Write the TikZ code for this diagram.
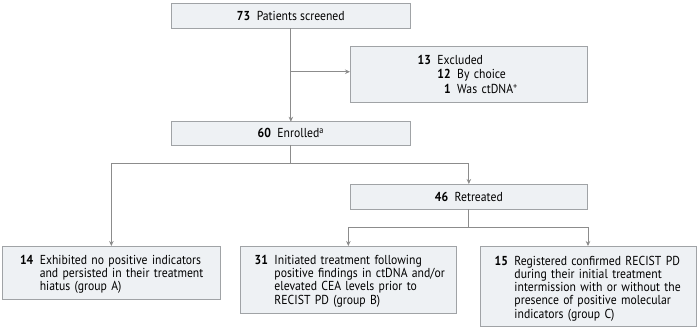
\documentclass[tikz,border=0pt]{standalone}
\usepackage{fontspec}
\setmainfont{PT Sans}[FakeStretch=0.9]
\usetikzlibrary{arrows.meta}
\definecolor{boxfill}{RGB}{238,241,244}
\definecolor{boxline}{RGB}{160,163,166}
\definecolor{connc}{RGB}{140,140,140}
\newcommand\nm[1]{\textbf{#1}\hspace{6.5pt}}
\newcommand\tabA[2]{\raisebox{-#1}[\height][\depth]{\begin{tabular}{@{}r@{\hspace{6.5pt}}l@{}}#2\end{tabular}}}
\begin{document}
\begin{tikzpicture}[x=1pt,y=-1pt,
  font=\fontsize{13}{13.3}\selectfont,
  box/.style={draw=boxline, fill=boxfill, line width=0.8pt, inner sep=0pt, outer sep=0pt, anchor=north west},
  lbox/.style={box, align=left, inner ysep=0pt},
  conn/.style={draw=connc, line width=0.75pt},
  arr/.style={conn, -{Stealth[length=5pt,width=4.5pt]}}]
\useasboundingbox (0,0) rectangle (700,331);

\node[box, minimum width=238.3pt, minimum height=25pt] (scr) at (171.7,3.3) {\nm{73}Patients screened};

\node[lbox, minimum width=237pt, minimum height=55.3pt, inner xsep=67.7pt, text width=101.6pt] (exc) at (350,46.7)
  {\renewcommand\arraystretch{1.1}\raisebox{-1.5pt}[\height][\depth]{\begin{tabular}{@{}r@{\hspace{6.5pt}}r@{\hspace{6.5pt}}l@{}}
   \textbf{13} & \multicolumn{2}{@{}l@{}}{Excluded}\\
   & \textbf{12} & By choice\\
   & \textbf{1} & Was ctDNA\textsuperscript{+}
   \end{tabular}}};

\node[box, minimum width=238.3pt, minimum height=23.3pt] (enr) at (171.7,121.7) {\nm{60}Enrolled\textsuperscript{a}};

\node[box, minimum width=237.7pt, minimum height=25.3pt] (ret) at (350,184) {\nm{46}Retreated};

\node[lbox, minimum width=217.3pt, minimum height=53pt, inner xsep=17.3pt, text width=182.7pt] (ga) at (2.7,246)
  {\tabA{2.5pt}{\textbf{14} & Exhibited no positive indicators\\ & and persisted in their treatment\\ & hiatus (group A)}};

\node[lbox, minimum width=215.3pt, minimum height=67pt, inner xsep=14pt, text width=187.3pt] (gb) at (240.7,246)
  {\tabA{2pt}{\textbf{31} & Initiated treatment following\\ & positive findings in ctDNA and/or\\ & elevated CEA levels prior to\\ & RECIST PD (group B)}};

\node[lbox, minimum width=216pt, minimum height=80pt, inner xsep=14.7pt, text width=186.6pt] (gc) at (480,246)
  {\tabA{3pt}{\textbf{15} & Registered confirmed RECIST PD\\ & during their initial treatment\\ & intermission with or without the\\ & presence of positive molecular\\ & indicators (group C)}};

\draw[arr] (scr.south) -- (enr.north);
\coordinate (exb) at ([yshift=2.6pt]scr.south |- exc.west);
\draw[arr] (exb) -- (exb -| exc.west);

\coordinate (ej) at ([yshift=-18pt]enr.south);
\draw[conn] (enr.south) -- (ej);
\draw[arr] (ej) -| (ga.north);
\draw[arr] (ej) -| (ret.north);

\coordinate (rj) at ([yshift=-18pt]ret.south);
\draw[conn] (ret.south) -- (rj);
\draw[arr] (rj) -| (gb.north);
\draw[arr] (rj) -| (gc.north);
\end{tikzpicture}
\end{document}
